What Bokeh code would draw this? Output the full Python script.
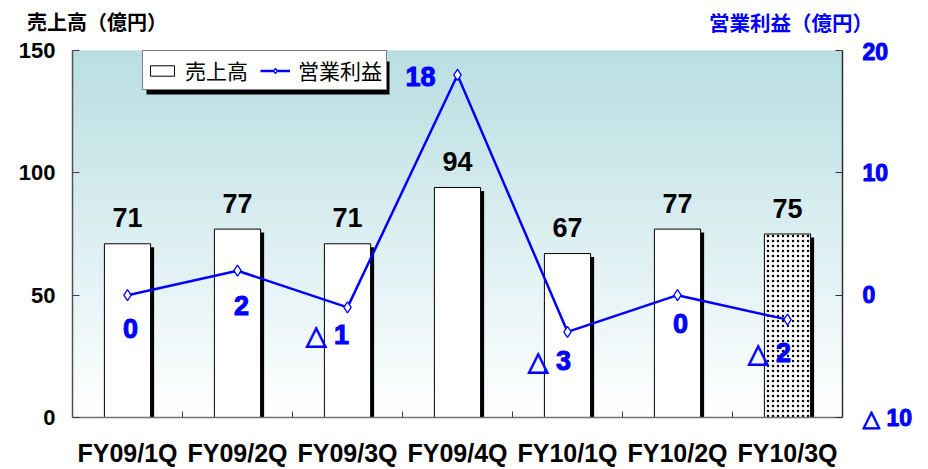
import numpy as np
from bokeh.plotting import figure
from bokeh.layouts import column
from bokeh.models import (ColumnDataSource, Range1d, LinearAxis, FixedTicker,
                          Legend, LegendItem, Div, BoxAnnotation)
from bokeh.transform import dodge
from bokeh.core.properties import value
from bokeh.embed import file_html
from bokeh.resources import INLINE

# ---------------- data ----------------
categories = ["FY09/1Q", "FY09/2Q", "FY09/3Q", "FY09/4Q", "FY10/1Q", "FY10/2Q", "FY10/3Q"]
sales = [71, 77, 71, 94, 67, 77, 75]          # 売上高（億円）
profit = [0, 2, -1, 18, -3, 0, -2]            # 営業利益（億円）
sales_ticks = [0, 50, 100, 150]
profit_ticks = [-10, 0, 10, 20]
left_title = "売上高（億円）"
right_title = "営業利益（億円）"

# ---------------- styles ----------------
# pixel offsets of the profit data labels (as placed in the original chart)
profit_label_dx = [3, 4, -20, -37, -18, 3, -18]
profit_label_dy = [33, 35, 28, 2, 29, 28, 33]

BLUE = "#0000FF"
LAT = "Liberation Sans, DejaVu Sans"
JP = "Noto Sans CJK JP"


def jp_num(v):
    return f"△ {abs(v)}" if v < 0 else str(v)


n = len(categories)
xs = [i + 0.5 for i in range(n)]
hatch = ["dot" if i == n - 1 else " " for i in range(n)]

src = ColumnDataSource(dict(
    x=xs, cat=categories, sales=sales, profit=profit,
    sales_txt=[str(v) for v in sales],
    profit_txt=[jp_num(v) for v in profit],
    dx=profit_label_dx, dy=profit_label_dy, hatch=hatch,
))

# ---------------- header with the two axis titles ----------------
W = 928
HEAD_H = 38
head_html = (
    f'<div style="position:relative;width:{W}px;height:{HEAD_H}px;'
    f"font-family:'Noto Sans CJK JP';font-weight:bold;font-size:20px;line-height:24px;\">"
    f'<span style="position:absolute;left:27px;top:10px;color:black;white-space:nowrap;">{left_title}</span>'
    f'<span style="position:absolute;left:709px;top:10px;color:{BLUE};white-space:nowrap;font-size:20.5px;">{right_title}</span>'
    f'</div>'
)
head = Div(text=head_html, width=W, height=HEAD_H, margin=(0, 0, 0, 0))

# ---------------- main chart ----------------
FRAME_H = 367
p = figure(width=W, height=469 - HEAD_H, x_range=Range1d(0, n), y_range=Range1d(0, 150),
           output_backend="svg", toolbar_location=None,
           min_border_left=72, min_border_right=86, min_border_top=12, min_border_bottom=52)
p.extra_y_ranges = {"profit": Range1d(-10, 20)}
p.xgrid.visible = False
p.ygrid.visible = False
p.outline_line_color = None
p.background_fill_color = "white"
p.border_fill_color = "white"

# ---- gradient background of the plot area ----
N = 150
edges = np.linspace(0, 150, N + 1)
top_rgb = np.array([184, 222, 226])
bot_rgb = np.array([255, 255, 255])
tt = ((edges[:-1] + edges[1:]) / 2) / 150
cols = ["#%02x%02x%02x" % tuple(int(round(c)) for c in (bot_rgb + (top_rgb - bot_rgb) * t)) for t in tt]
p.quad(left=0, right=n, bottom=edges[:-1], top=edges[1:], fill_color=cols, line_color=cols, line_width=1)

# ---- bars (shadow + bar) ----
p.vbar(x=dodge("x", 0.032), top=dodge("sales", -1.4), width=0.42, source=src,
       fill_color="black", line_color=None)
bars = p.vbar(x="x", top="sales", width=0.42, source=src,
              fill_color="white", line_color="black", line_width=1,
              hatch_pattern="hatch", hatch_color="black", hatch_scale=5, hatch_weight=1.3)

# ---- profit line ----
ln = p.line(x="x", y="profit", source=src, y_range_name="profit", line_color=BLUE, line_width=2.5)
mk = p.scatter(x="x", y="profit", source=src, y_range_name="profit", marker="diamond", size=11,
               fill_color="white", line_color=BLUE, line_width=1.3)

# ---- data labels ----
p.text(x="x", y="sales", text="sales_txt", source=src, y_offset=-26,
       text_align="center", text_baseline="alphabetic",
       text_font=value("Liberation Sans"), text_font_style="bold", text_font_size="27px",
       text_color="black")
ptxt = p.text(x="x", y="profit", text="profit_txt", source=src, y_range_name="profit",
              x_offset="dx", y_offset="dy", text_align="center", text_baseline="middle",
              text_font=value(LAT), text_font_style="bold", text_font_size="27px",
              text_color=BLUE)
try:
    ptxt.glyph.text_outline_color = BLUE
except Exception:
    pass

# ---- axes ----
xa = p.xaxis[0]
xa.ticker = FixedTicker(ticks=xs, minor_ticks=list(range(1, n)))
xa.major_label_overrides = {x: c for x, c in zip(xs, categories)}
xa.minor_tick_in = 6
xa.minor_tick_out = 0
xa.minor_tick_line_color = "#404040"
xa.major_tick_line_color = None
xa.major_tick_in = 0
xa.major_tick_out = 0
xa.major_label_standoff = 21
xa.major_label_text_font = "Liberation Sans"
xa.major_label_text_font_style = "bold"
xa.major_label_text_font_size = "25px"
xa.major_label_text_color = "black"
xa.axis_line_color = "#707070"
xa.axis_line_width = 1.5

ya = p.yaxis[0]
ya.ticker = FixedTicker(ticks=sales_ticks)
ya.major_tick_in = 7
ya.major_tick_out = 0
ya.minor_tick_line_color = None
ya.major_tick_line_color = "#404040"
ya.axis_line_color = "#505050"
ya.axis_line_width = 1.5
ya.major_label_standoff = 17
ya.major_label_text_font = "Liberation Sans"
ya.major_label_text_font_style = "bold"
ya.major_label_text_font_size = "22px"
ya.major_label_text_color = "black"

ra = LinearAxis(y_range_name="profit", ticker=FixedTicker(ticks=profit_ticks),
                major_label_overrides={-10: "△ 10"})
ra.major_tick_in = 7
ra.major_tick_out = 0
ra.minor_tick_line_color = None
ra.major_tick_line_color = "#303030"
ra.axis_line_color = "#303030"
ra.axis_line_width = 1.5
ra.major_label_standoff = 20
ra.major_label_text_font = LAT
ra.major_label_text_font_style = "bold"
ra.major_label_text_font_size = "23px"
ra.major_label_text_color = BLUE
try:
    ra.major_label_text_outline_color = BLUE
except Exception:
    pass
p.add_layout(ra, "right")

# ---- legend with a drop shadow ----
LX, LY, LW, LH, SH = 70, 327, 243, 33, 4       # legend box in frame pixels, shadow offset
px_x = 770 / n
px_y = FRAME_H / 150
p.add_layout(BoxAnnotation(left=(LX + SH) / px_x, right=(LX + SH + LW) / px_x,
                           bottom=(LY - SH) / px_y, top=(LY - SH + LH) / px_y,
                           fill_color="black", fill_alpha=1.0, line_color=None))

lg = Legend(items=[LegendItem(label="売上高", renderers=[bars]),
                   LegendItem(label="営業利益", renderers=[ln, mk])],
            location=(LX, LY), orientation="horizontal")
lg.background_fill_color = "white"
lg.background_fill_alpha = 1.0
lg.border_line_color = "black"
lg.border_line_width = 1
lg.label_text_font = JP
lg.label_text_font_size = "21px"
lg.label_text_color = "black"
lg.glyph_width = 30
lg.glyph_height = 13
lg.label_standoff = 8
lg.spacing = 12
lg.padding = 4
lg.margin = 0
p.add_layout(lg)

layout = column(head, p, spacing=0)
open("out.html", "w").write(file_html(layout, INLINE))
